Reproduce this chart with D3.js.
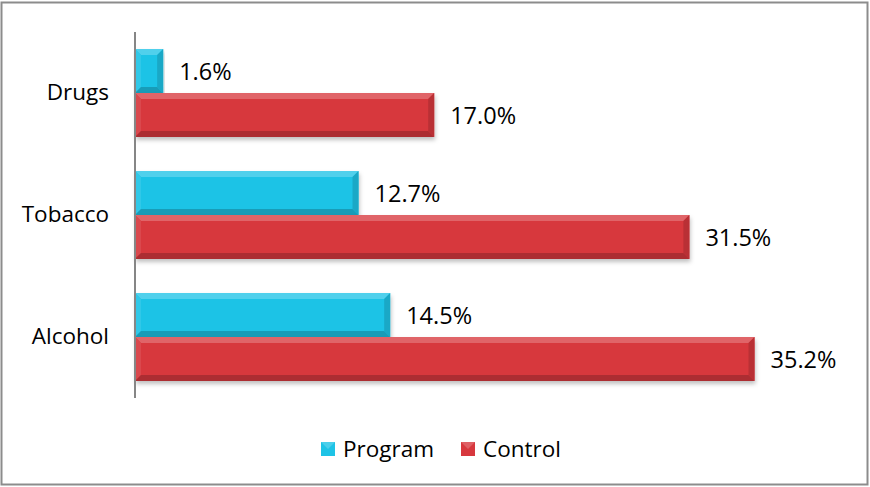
<!DOCTYPE html>
<html><head><meta charset="utf-8">
<script src="https://cdn.jsdelivr.net/npm/d3@7"></script>
<style>
html,body{margin:0;padding:0;background:#fff;}
svg{display:block;font-family:"Open Sans",sans-serif;}
</style></head>
<body>
<script>
const categories = ["Drugs", "Tobacco", "Alcohol"];
const seriesNames = ["Program", "Control"];
const programValues = [1.6, 12.7, 14.5];
const controlValues = [17.0, 31.5, 35.2];
const seriesColors = ["#1EC3E6", "#D7383E"];
const xMax = 40;

const W = 870, H = 487;
const svg = d3.select("body").append("svg").attr("width", W).attr("height", H);

const defs = svg.append("defs");
const f = defs.append("filter").attr("id","sh").attr("x","-5%").attr("y","-20%").attr("width","110%").attr("height","160%");
f.append("feDropShadow").attr("dx",1).attr("dy",3).attr("stdDeviation",2).attr("flood-color","#000").attr("flood-opacity",0.25);

// outer border
svg.append("rect").attr("x",1.5).attr("y",2.5).attr("width",866).attr("height",482)
  .attr("fill","#fff").attr("stroke","#8c8c8c").attr("stroke-width",2);

const plot = {left:135, right:839, top:32, bottom:398};
const x = d3.scaleLinear().domain([0,xMax]).range([plot.left, plot.right]);
const y = d3.scaleBand().domain(categories).range([plot.top, plot.bottom]).paddingInner(0.28).paddingOuter(0.14);
const ySub = d3.scaleBand().domain(seriesNames).range([0, y.bandwidth()]);

const data = categories.map((c,i)=>({cat:c, vals:[programValues[i], controlValues[i]]}));

function shade(c, k){ return k>0 ? d3.interpolateRgb(c,"#fff")(k) : d3.interpolateRgb(c,"#000")(-k); }

const g = svg.append("g");
data.forEach(d=>{
  seriesNames.forEach((s,si)=>{
    const v = d.vals[si];
    const x0 = x(0), x1 = x(v);
    const y0 = y(d.cat)+ySub(s), y1 = y0+ySub.bandwidth();
    const col = seriesColors[si];
    const b = Math.min(6, (x1-x0)/2);
    const bg = g.append("g");
    bg.append("rect").attr("x",x0).attr("y",y0).attr("width",x1-x0).attr("height",y1-y0)
      .attr("fill",col).attr("filter","url(#sh)");
    bg.append("polygon").attr("points",[[x0,y0],[x1,y0],[x1-b,y0+b],[x0+b,y0+b]].join(" "))
      .attr("fill",shade(col,0.22));
    bg.append("polygon").attr("points",[[x0,y0],[x0+b,y0+b],[x0+b,y1-b],[x0,y1]].join(" "))
      .attr("fill",shade(col,0.08));
    bg.append("polygon").attr("points",[[x0,y1],[x0+b,y1-b],[x1-b,y1-b],[x1,y1]].join(" "))
      .attr("fill",shade(col,-0.2));
    bg.append("polygon").attr("points",[[x1,y0],[x1,y1],[x1-b,y1-b],[x1-b,y0+b]].join(" "))
      .attr("fill",shade(col,-0.14));
    g.append("text").attr("x",x1+16).attr("y",(y0+y1)/2+1).attr("dy","0.35em")
      .attr("font-size",23.5).attr("fill","#000").text(v.toFixed(1)+"%");
  });
});

// axis
const yAxis = d3.axisLeft(y).tickSize(0).tickPadding(26);
const ag = svg.append("g").attr("transform",`translate(${plot.left},0)`).call(yAxis);
ag.select(".domain").attr("stroke","#868686").attr("stroke-width",2).attr("d",`M0,${plot.top}V${plot.bottom}`);
ag.selectAll("text").attr("font-size",22.5).attr("font-family","Open Sans, sans-serif").attr("fill","#000");

// legend
const leg = svg.append("g");
const legX = [321, 461];
seriesNames.forEach((s,i)=>{
  const lx = legX[i];
  const col = seriesColors[i];
  leg.append("rect").attr("x",lx).attr("y",442).attr("width",14).attr("height",14).attr("fill",col);
  leg.append("polygon").attr("points",[[lx,442],[lx+14,442],[lx+7,449]].join(" ")).attr("fill",shade(col,0.2));
  leg.append("text").attr("x",lx+22).attr("y",449).attr("dy","0.35em").attr("font-size",22.5).text(s);
});
</script>
</body></html>
